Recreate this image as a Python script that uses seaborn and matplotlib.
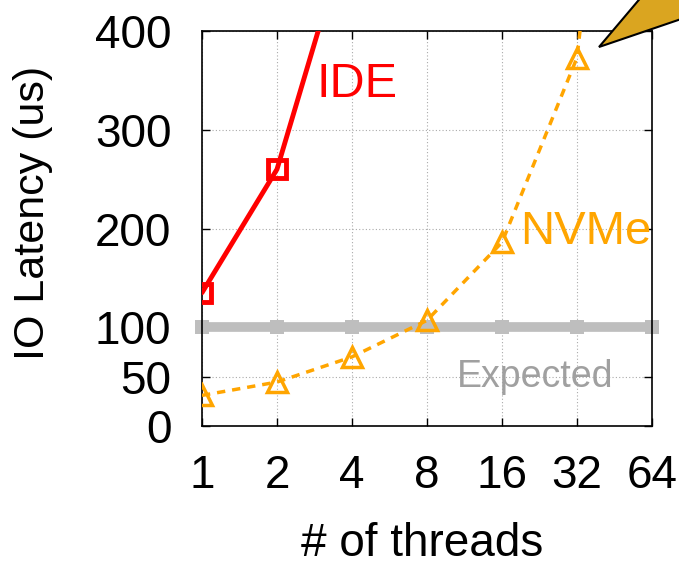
import matplotlib
matplotlib.use("Agg")
import matplotlib.pyplot as plt
import seaborn as sns
import pandas as pd
from matplotlib.patches import Polygon

threads = [1, 2, 4, 8, 16, 32, 64]
ide_threads = [1, 2, 4]
ide_latency = [135, 260, 515]
nvme_latency = [31, 44.5, 70, 107, 186, 373, 1050]
expected_latency = [100, 100, 100, 100, 100, 100, 100]
y_ticks = [0, 50, 100, 200, 300, 400]

sns.set_theme(style="white")
plt.rcParams['font.family'] = ['Liberation Sans', 'DejaVu Sans']

W, H = 679, 567
fig = plt.figure(figsize=(W / 100, H / 100), dpi=100)
ax = fig.add_axes([202 / W, 1 - 426 / H, 450 / W, 395 / H])

df_exp = pd.DataFrame({"threads": threads, "lat": expected_latency})
df_nvme = pd.DataFrame({"threads": threads, "lat": nvme_latency})
df_ide = pd.DataFrame({"threads": ide_threads, "lat": ide_latency})

sns.lineplot(data=df_exp, x="threads", y="lat", ax=ax, color="#BEBEBE",
             linewidth=7, marker="s", markersize=10, markeredgewidth=0,
             markerfacecolor="#BEBEBE", zorder=2)
sns.lineplot(data=df_nvme, x="threads", y="lat", ax=ax, color="#FFA500",
             linewidth=2.5, marker="^", markersize=14, markerfacecolor="none",
             markeredgecolor="#FFA500", markeredgewidth=2.5, zorder=3)
sns.lineplot(data=df_ide, x="threads", y="lat", ax=ax, color="#FF0000",
             linewidth=3.5, marker="s", markersize=13, markerfacecolor="none",
             markeredgecolor="#FF0000", markeredgewidth=3.5, zorder=4)
ax.lines[0].set_clip_on(False)
ax.lines[1].set_dashes([2.4, 2])

ax.set_xscale("log", base=2)
ax.set_xlim(1, 64)
ax.set_ylim(0, 400)
ax.set_xticks(threads)
ax.set_xticklabels([str(t) for t in threads])
ax.set_yticks(y_ticks)
ax.minorticks_off()

ax.grid(True, color="#AAAAAA", linestyle=(0, (1, 2)), linewidth=0.8)
ax.set_axisbelow(True)
for s in ax.spines.values():
    s.set_color("black")
    s.set_linewidth(1.2)
    s.set_visible(True)

ax.tick_params(axis="both", direction="in", length=6, width=1, colors="black",
               labelsize=33, top=True, right=True, bottom=True, left=True)
ax.tick_params(axis="y", pad=22)
ax.tick_params(axis="x", pad=20)

ax.set_xlabel("# of threads", fontsize=33, color="black")
ax.set_ylabel("IO Latency (us)", fontsize=31, color="black")
ax.xaxis.label.set_va("center")
ax.xaxis.set_label_coords(0.49, -0.30)
ax.yaxis.label.set_va("center")
ax.yaxis.set_label_coords(-0.376, 0.54)

ax.text(2.87, 333, "IDE", color="#FF0000", fontsize=35, ha="left", va="baseline")
ax.text(18.9, 184, "NVMe", color="#FFA500", fontsize=34, ha="left", va="baseline")
ax.text(10.56, 39.5, "Expected", color="#A0A0A0", fontsize=27, ha="left", va="baseline")

pts = [(599, 47), (643, -5), (690, -5), (690, 16)]
poly = Polygon([(x / W, 1 - y / H) for x, y in pts], closed=True,
               transform=fig.transFigure, facecolor="#DAA520",
               edgecolor="black", linewidth=1.5, clip_on=False)
fig.patches.append(poly)

fig.savefig("out.png", dpi=100)
